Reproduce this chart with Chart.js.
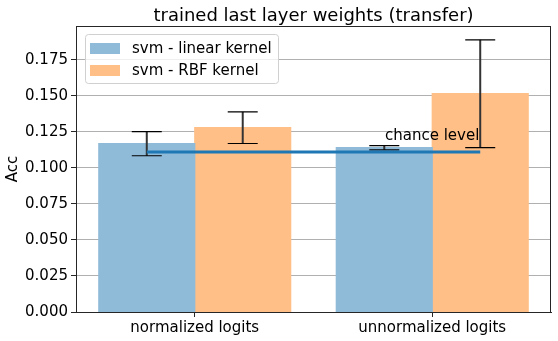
<!DOCTYPE html>
<html>
<head>
<meta charset="utf-8">
<script src="https://cdn.jsdelivr.net/npm/chart.js@4.4.0/dist/chart.umd.min.js"></script>
<style>
  html, body { margin: 0; padding: 0; background: #fff; }
  #wrap { width: 558px; height: 341px; }
</style>
</head>
<body>
<div id="wrap"><canvas id="accChart" width="558" height="341"></canvas></div>
<script>
const categories = ['normalized logits', 'unnormalized logits'];
const seriesNames = ['svm - linear kernel', 'svm - RBF kernel'];
const linearAcc = [0.1169, 0.1141];
const rbfAcc = [0.1280, 0.1516];
const linearErr = [0.0084, 0.0015];
const rbfErr = [0.0110, 0.0374];
const chanceLevel = [1 / 9];
const yTicks = [0, 0.025, 0.05, 0.075, 0.1, 0.125, 0.15, 0.175];

const FONT = "'DejaVu Sans', sans-serif";
const TEXT = '#000000';
const errs = [linearErr, rbfErr];

const extras = {
    id: 'extras',
    afterDatasetsDraw(chart) {
        const ctx = chart.ctx;
        const y = chart.scales.y;
        const area = chart.chartArea;
        ctx.save();

        // error bars
        errs.forEach((err, di) => {
            const meta = chart.getDatasetMeta(di);
            const vals = chart.data.datasets[di].data;
            meta.data.forEach((bar, i) => {
                const top = y.getPixelForValue(vals[i] + err[i]);
                const bot = y.getPixelForValue(vals[i] - err[i]);
                ctx.strokeStyle = '#333333';
                ctx.lineWidth = 2;
                ctx.beginPath();
                ctx.moveTo(bar.x, top);
                ctx.lineTo(bar.x, bot);
                ctx.stroke();
                ctx.strokeStyle = '#000';
                ctx.lineWidth = 1.2;
                ctx.beginPath();
                ctx.moveTo(bar.x - 15, top);
                ctx.lineTo(bar.x + 15, top);
                ctx.moveTo(bar.x - 15, bot);
                ctx.lineTo(bar.x + 15, bot);
                ctx.stroke();
            });
        });

        // chance level line, from first linear bar centre to last RBF bar centre
        const x0 = chart.getDatasetMeta(0).data[0].x;
        const x1 = chart.getDatasetMeta(1).data[categories.length - 1].x;
        const cy = y.getPixelForValue(chanceLevel[0]);
        ctx.strokeStyle = '#1f77b4';
        ctx.lineWidth = 3;
        ctx.beginPath();
        ctx.moveTo(x0, cy);
        ctx.lineTo(x1, cy);
        ctx.stroke();

        ctx.fillStyle = TEXT;
        ctx.font = '15px ' + FONT;
        ctx.textAlign = 'left';
        ctx.textBaseline = 'alphabetic';
        ctx.fillText('chance level', 385, 140);

        // frame
        ctx.strokeStyle = '#262626';
        ctx.lineWidth = 1;
        ctx.strokeRect(Math.round(area.left) + 0.5, Math.round(area.top) + 0.5,
            Math.round(area.right - area.left) - 1, Math.round(area.bottom - area.top));

        // title
        ctx.font = '18px ' + FONT;
        ctx.textAlign = 'center';
        ctx.fillText('trained last layer weights (transfer)', (area.left + area.right) / 2, 21);

        // y label
        ctx.save();
        ctx.translate(13, (area.top + area.bottom) / 2);
        ctx.rotate(-Math.PI / 2);
        ctx.font = '15px ' + FONT;
        ctx.textBaseline = 'middle';
        ctx.fillText('Acc', 0, 0);
        ctx.restore();

        // legend
        const lx = area.left + 9, ly = area.top + 8;
        ctx.fillStyle = 'rgba(255,255,255,0.8)';
        ctx.strokeStyle = '#d0d0d0';
        ctx.lineWidth = 1;
        ctx.beginPath();
        ctx.roundRect(lx + 0.5, ly + 0.5, 193, 49, 3);
        ctx.fill();
        ctx.stroke();
        chart.data.datasets.forEach((ds, i) => {
            const rowY = ly + 14 + i * 22;
            ctx.fillStyle = ds.backgroundColor;
            ctx.fillRect(lx + 5, rowY - 5, 30, 11);
            ctx.fillStyle = TEXT;
            ctx.font = '15px ' + FONT;
            ctx.textAlign = 'left';
            ctx.textBaseline = 'middle';
            ctx.fillText(ds.label, lx + 47, rowY + 1);
        });

        ctx.restore();
    }
};

new Chart(document.getElementById('accChart'), {
    type: 'bar',
    data: {
        labels: categories,
        datasets: [{
            label: seriesNames[0],
            data: linearAcc,
            backgroundColor: '#8fbbd9'
        }, {
            label: seriesNames[1],
            data: rbfAcc,
            backgroundColor: '#ffbf86'
        }]
    },
    options: {
        responsive: false,
        animation: false,
        layout: { padding: { top: 26, right: 7, bottom: 0, left: 0 } },
        datasets: {
            bar: { categoryPercentage: 0.808, barPercentage: 1.0, borderWidth: 0, inflateAmount: 0.6 }
        },
        plugins: {
            legend: { display: false },
            title: { display: false },
            tooltip: { enabled: false }
        },
        scales: {
            x: {
                offset: true,
                afterFit: s => { s.height = 29; },
                grid: { display: true, drawOnChartArea: false, offset: false, tickColor: '#262626', tickLength: 5 },
                border: { color: '#262626' },
                ticks: { color: TEXT, font: { family: FONT, size: 15 }, padding: 2 }
            },
            y: {
                min: 0,
                max: 0.1986,
                afterFit: s => { s.width = 76; },
                afterBuildTicks: s => { s.ticks = yTicks.map(v => ({ value: v })); },
                grid: { color: '#b0b0b0', lineWidth: 1, tickColor: '#262626', tickLength: 5 },
                border: { color: '#262626' },
                ticks: {
                    color: TEXT,
                    font: { family: FONT, size: 15 },
                    padding: 3,
                    callback: v => v.toFixed(3)
                }
            }
        }
    },
    plugins: [extras]
});
</script>
</body>
</html>
